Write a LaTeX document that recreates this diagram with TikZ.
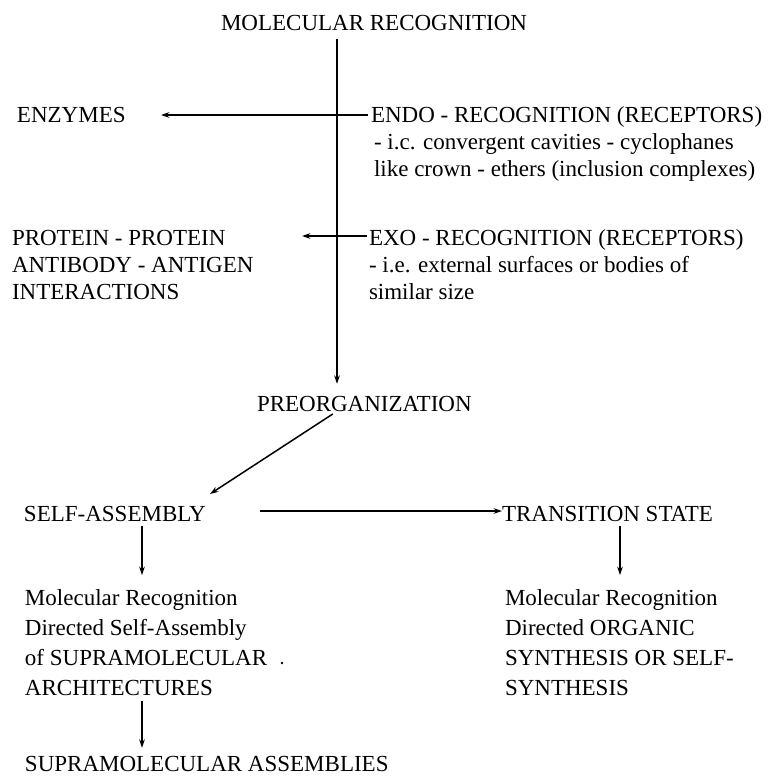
\documentclass[tikz,border=0pt]{standalone}
\usepackage{fontspec}
\setmainfont{Liberation Serif}
\usetikzlibrary{arrows.meta}
\begin{document}
\begin{tikzpicture}[x=0.5pt,y=-0.5pt,
  txt/.style={anchor=base west, inner sep=0pt, outer sep=0pt, font=\fontsize{11.5pt}{13.5pt}\selectfont},
  arr/.style={line width=0.75pt, -{Stealth[length=4.2pt,width=2.8pt]}}]
\useasboundingbox[fill=white] (0,0) rectangle (770,776);
% texts
\node[txt] (title) at (221,30) {MOLECULAR RECOGNITION};
\node[txt] (enz) at (17,122) {ENZYMES};
\node[txt] (endoA) at (371,122) {ENDO - RECOGNITION (RECEPTORS)};
\node[txt] (endoB) at (374,149) {- i.c. convergent cavities - cyclophanes};
\node[txt] (endoC) at (374,176) {like crown - ethers (inclusion complexes)};
\node[txt] (protA) at (12,245) {PROTEIN - PROTEIN};
\node[txt] (protB) at (12,272) {ANTIBODY - ANTIGEN};
\node[txt] (protC) at (12,299) {INTERACTIONS};
\node[txt] (exoA) at (369,245) {EXO - RECOGNITION (RECEPTORS)};
\node[txt] (exoB) at (369,272) {- i.e. external surfaces or bodies of};
\node[txt] (exoC) at (369,299) {similar size};
\node[txt] (pre) at (257,411) {PREORGANIZATION};
\node[txt] (self) at (24,521) {SELF-ASSEMBLY};
\node[txt] (trans) at (502,521) {TRANSITION STATE};
\node[txt] (lA) at (25,605) {Molecular Recognition};
\node[txt] (lB) at (25,635) {Directed Self-Assembly};
\node[txt] (lC) at (25,665) {of SUPRAMOLECULAR};
\node[txt] (lD) at (25,695) {ARCHITECTURES};
\node[txt] (rA) at (505,605) {Molecular Recognition};
\node[txt] (rB) at (505,635) {Directed ORGANIC};
\node[txt] (rC) at (505,665) {SYNTHESIS OR SELF-};
\node[txt] (rD) at (505,695) {SYNTHESIS};
\node[txt] (supra) at (25,771) {SUPRAMOLECULAR ASSEMBLIES};
% helper coordinates
\coordinate (vx) at (337,0);
\coordinate (enzTip) at (161,115);
\coordinate (protTip) at (302,236);
\coordinate (selfTip) at (210,494);
\coordinate (hA) at (142,0);
\coordinate (hB) at (620,0);
% connectors
\draw[arr, shorten <=4.5pt, shorten >=6pt] (title.south -| vx) -- (pre.north -| vx);
\draw[arr] (endoA.west |- enzTip) ++(-3,0) -- (enzTip);
\draw[arr] (exoA.west |- protTip) ++(-2,0) -- (protTip);
\draw[arr, shorten <=2.5pt] (pre.south -| vx) -- (selfTip);
\draw[arr] (self.east |- 0,511) ++(54,0) -- (trans.west |- 0,511);
\draw[arr, shorten <=2.5pt, shorten >=7pt] (self.south -| hA) -- (lA.north -| hA);
\draw[arr, shorten <=2.5pt, shorten >=7pt] (trans.south -| hB) -- (rA.north -| hB);
\draw[arr, shorten <=3pt, shorten >=4pt] (lD.south -| hA) -- (supra.north -| hA);
\fill (282,663) circle (1.4);
\end{tikzpicture}
\end{document}
